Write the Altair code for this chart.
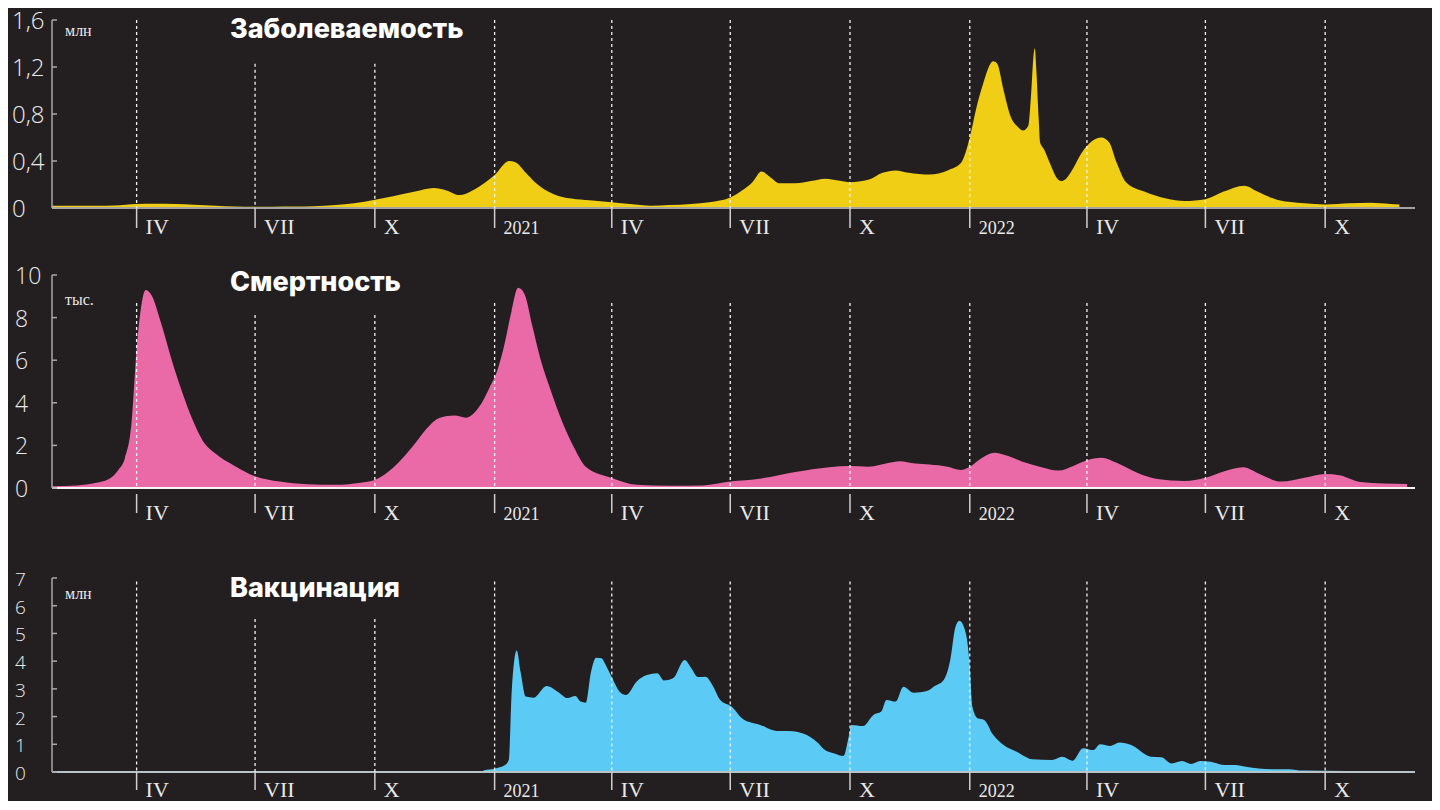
import altair as alt
import pandas as pd

BG = "#231f20"

# ---------------- data ----------------
quarter_dates = ["2020-04-01", "2020-07-01", "2020-10-01", "2021-01-01", "2021-04-01",
                 "2021-07-01", "2021-10-01", "2022-01-01", "2022-04-01", "2022-07-01", "2022-10-01"]
quarter_labels = ["IV", "VII", "X", "2021", "IV", "VII", "X", "2022", "IV", "VII", "X"]

cases_dates = [
    "2020-01-27", "2020-02-15", "2020-03-01", "2020-03-15", "2020-04-01", "2020-04-15", "2020-05-01",
    "2020-05-15", "2020-06-01", "2020-06-15", "2020-07-01", "2020-07-15", "2020-08-01", "2020-08-15",
    "2020-09-01", "2020-09-15", "2020-10-01", "2020-10-15", "2020-11-01", "2020-11-15", "2020-11-25",
    "2020-12-05", "2020-12-15", "2020-12-25", "2021-01-01", "2021-01-12", "2021-01-17", "2021-01-25",
    "2021-02-01", "2021-02-15", "2021-03-01", "2021-03-15", "2021-04-01", "2021-04-15", "2021-05-01",
    "2021-05-15", "2021-06-01", "2021-06-15", "2021-07-01", "2021-07-10", "2021-07-18", "2021-07-25",
    "2021-08-01", "2021-08-08", "2021-08-20", "2021-09-01", "2021-09-12", "2021-09-22", "2021-10-01",
    "2021-10-15", "2021-10-26", "2021-11-05", "2021-11-15", "2021-12-01", "2021-12-15", "2021-12-25",
    "2022-01-01", "2022-01-06", "2022-01-11", "2022-01-19", "2022-01-22", "2022-01-27", "2022-02-01",
    "2022-02-07", "2022-02-11", "2022-02-15", "2022-02-17", "2022-02-19", "2022-02-20", "2022-02-21",
    "2022-02-23", "2022-02-24", "2022-02-27", "2022-03-04", "2022-03-08", "2022-03-12", "2022-03-16",
    "2022-03-21", "2022-03-28", "2022-04-05", "2022-04-12", "2022-04-18", "2022-04-24", "2022-05-01",
    "2022-05-15", "2022-06-01", "2022-06-15", "2022-07-01", "2022-07-15", "2022-07-31", "2022-08-10",
    "2022-08-25", "2022-09-15", "2022-10-01", "2022-10-20", "2022-11-05", "2022-11-20", "2022-11-27"]
cases_values = [
    0.02, 0.02, 0.02, 0.022, 0.035, 0.036, 0.035,
    0.028, 0.02, 0.012, 0.01, 0.011, 0.012, 0.015,
    0.025, 0.04, 0.07, 0.10, 0.14, 0.17, 0.15,
    0.11, 0.15, 0.22, 0.28, 0.40, 0.39, 0.30,
    0.22, 0.12, 0.08, 0.065, 0.05, 0.035, 0.02,
    0.025, 0.035, 0.05, 0.09, 0.15, 0.22, 0.31,
    0.26, 0.21, 0.21, 0.23, 0.25, 0.235, 0.22,
    0.24, 0.30, 0.32, 0.30, 0.285, 0.32, 0.38,
    0.60, 0.85, 1.05, 1.25, 1.23, 1.00, 0.79,
    0.69, 0.66, 0.70, 0.95, 1.30, 1.36, 1.20,
    0.75, 0.56, 0.50, 0.37, 0.27, 0.23, 0.25,
    0.33, 0.47, 0.57, 0.60, 0.56, 0.38, 0.22,
    0.14, 0.08, 0.06, 0.075, 0.14, 0.19, 0.14,
    0.07, 0.04, 0.03, 0.04, 0.045, 0.035, 0.03]

deaths_dates = [
    "2020-01-27", "2020-02-15", "2020-03-01", "2020-03-10", "2020-03-18", "2020-03-23", "2020-03-28",
    "2020-04-01", "2020-04-04", "2020-04-08", "2020-04-12", "2020-04-20", "2020-04-28", "2020-05-06",
    "2020-05-14", "2020-05-22", "2020-06-01", "2020-06-15", "2020-07-01", "2020-07-20", "2020-08-10",
    "2020-09-01", "2020-09-20", "2020-10-01", "2020-10-15", "2020-11-01", "2020-11-10", "2020-11-20",
    "2020-12-01", "2020-12-10", "2020-12-20", "2020-12-28", "2021-01-03", "2021-01-08", "2021-01-14",
    "2021-01-19", "2021-01-24", "2021-01-30", "2021-02-05", "2021-02-13", "2021-02-22", "2021-03-03",
    "2021-03-12", "2021-04-01", "2021-04-20", "2021-05-15", "2021-06-10", "2021-07-01", "2021-07-25",
    "2021-08-20", "2021-09-15", "2021-10-01", "2021-10-15", "2021-11-01", "2021-11-08", "2021-11-20",
    "2021-12-01", "2021-12-15", "2021-12-25", "2022-01-01", "2022-01-10", "2022-01-20", "2022-01-28",
    "2022-02-10", "2022-02-25", "2022-03-10", "2022-03-22", "2022-04-01", "2022-04-12", "2022-04-25",
    "2022-05-10", "2022-05-25", "2022-06-15", "2022-07-01", "2022-07-15", "2022-07-30", "2022-08-12",
    "2022-08-28", "2022-09-15", "2022-10-01", "2022-10-12", "2022-10-28", "2022-11-15", "2022-12-03"]
deaths_values = [
    0.08, 0.12, 0.25, 0.4, 0.85, 1.4, 3.0,
    6.5, 8.3, 9.3, 9.1, 7.7, 6.0, 4.5,
    3.2, 2.2, 1.6, 1.05, 0.55, 0.3, 0.18,
    0.15, 0.25, 0.38, 0.95, 2.1, 2.8, 3.3,
    3.4, 3.3, 3.8, 4.7, 5.5, 6.6, 8.3,
    9.4, 9.1, 7.6, 6.1, 4.6, 3.1, 1.9,
    1.0, 0.47, 0.15, 0.1, 0.12, 0.3, 0.45,
    0.75, 0.98, 1.03, 1.0, 1.2, 1.26, 1.15,
    1.1, 1.0, 0.85, 1.0, 1.4, 1.65, 1.55,
    1.25, 0.98, 0.82, 1.05, 1.3, 1.42, 1.15,
    0.7, 0.42, 0.33, 0.48, 0.78, 0.98, 0.65,
    0.3, 0.48, 0.66, 0.6, 0.28, 0.21, 0.19]

vacc_dates = [
    "2020-12-22", "2020-12-24", "2021-01-01", "2021-01-09", "2021-01-12", "2021-01-14", "2021-01-16",
    "2021-01-18", "2021-01-21", "2021-01-25", "2021-01-31", "2021-02-10", "2021-02-19", "2021-02-26",
    "2021-03-04", "2021-03-08", "2021-03-12", "2021-03-16", "2021-03-20", "2021-03-24", "2021-03-28",
    "2021-04-02", "2021-04-07", "2021-04-12", "2021-04-20", "2021-04-28", "2021-05-06", "2021-05-11",
    "2021-05-18", "2021-05-27", "2021-06-01", "2021-06-06", "2021-06-12", "2021-06-18", "2021-06-23",
    "2021-07-02", "2021-07-11", "2021-07-24", "2021-08-06", "2021-08-15", "2021-08-27", "2021-09-06",
    "2021-09-11", "2021-09-19", "2021-09-26", "2021-09-30", "2021-10-02", "2021-10-11", "2021-10-19",
    "2021-10-25", "2021-10-29", "2021-11-05", "2021-11-11", "2021-11-19", "2021-11-29", "2021-12-05",
    "2021-12-12", "2021-12-17", "2021-12-21", "2021-12-24", "2021-12-29", "2022-01-01", "2022-01-03",
    "2022-01-07", "2022-01-12", "2022-01-19", "2022-01-27", "2022-02-06", "2022-02-18", "2022-03-05",
    "2022-03-13", "2022-03-21", "2022-03-29", "2022-04-06", "2022-04-11", "2022-04-19", "2022-04-26",
    "2022-05-05", "2022-05-20", "2022-05-28", "2022-06-05", "2022-06-13", "2022-06-20", "2022-06-27",
    "2022-07-05", "2022-07-16", "2022-07-24", "2022-08-01", "2022-08-22", "2022-09-03", "2022-09-14",
    "2022-10-18", "2022-11-21"]
vacc_values = [
    0.0, 0.06, 0.12, 0.25, 0.45, 2.8, 4.0,
    4.38, 3.6, 2.72, 2.68, 3.1, 2.88, 2.67,
    2.74, 2.54, 2.5, 3.6, 4.12, 4.1, 3.8,
    3.32, 2.9, 2.78, 3.26, 3.5, 3.56, 3.3,
    3.38, 4.04, 3.75, 3.43, 3.44, 3.08, 2.62,
    2.36, 1.9, 1.7, 1.48, 1.48, 1.37, 1.06,
    0.82, 0.67, 0.58, 1.27, 1.7, 1.66, 2.06,
    2.18, 2.6, 2.54, 3.08, 2.86, 2.92, 3.1,
    3.32, 4.04, 5.24, 5.46, 5.0, 3.8, 2.36,
    1.94, 1.88, 1.34, 0.97, 0.73, 0.46, 0.43,
    0.55, 0.41, 0.86, 0.79, 1.0, 0.94, 1.06,
    0.97, 0.55, 0.53, 0.31, 0.4, 0.29, 0.4,
    0.37, 0.25, 0.25, 0.19, 0.1, 0.1, 0.05,
    0.04, 0.02]

cases_ticks = [0, 0.4, 0.8, 1.2, 1.6]
deaths_ticks = [0, 2, 4, 6, 8, 10]
vacc_ticks = [0, 1, 2, 3, 4, 5, 6, 7]

# ---------------- layout ----------------
W = 1363
X_SCALE = alt.Scale(type="utc", domain=[alt.DateTime(year=2020, month=1, date=27, utc=True),
                                         alt.DateTime(year=2022, month=12, date=9, utc=True)])
XENC = alt.X("date:T", scale=X_SCALE, axis=None)
LABEL_COLOR = "#e9e9e9"


def tick_text(v):
    if v == 0:
        return "0"
    s = ("%g" % v)
    return s.replace(".", ",")


def panel(dates, values, color, ticks, title, unit, H, top_extra, bottom_extra,
          ylab_size, ylab_x, title_y, unit_y, full_top, short_top,
          tick_from, tick_to, lab_y, base_color, axis_color):
    ymax = ticks[-1]
    ysc = alt.Scale(domain=[0, ymax], nice=False, zero=True)
    df = pd.DataFrame({"date": dates, "value": values})
    qdf = pd.DataFrame({"date": quarter_dates, "label": quarter_labels})
    qdf["top"] = [short_top if i in (1, 2) else full_top for i in range(len(qdf))]
    qdf["fs"] = [18 if lab.isdigit() else 22 for lab in quarter_labels]
    tdf = pd.DataFrame({"v": ticks, "t": [tick_text(v) for v in ticks]})
    one = pd.DataFrame({"title": [title], "unit": [unit]})

    area = alt.Chart(df).mark_area(color=color, interpolate="monotone").encode(
        x=XENC, y=alt.Y("value:Q", scale=ysc, axis=None))
    baseline = alt.Chart(one).mark_rule(color=base_color, strokeWidth=2).encode(
        x=alt.value(0), x2=alt.value(W), y=alt.value(H))
    yline = alt.Chart(one).mark_rule(color=axis_color, strokeWidth=1.5).encode(
        x=alt.value(0), y=alt.value(0), y2=alt.value(H))
    yticks = alt.Chart(tdf).mark_rule(color=axis_color, strokeWidth=1.5).encode(
        x=alt.value(0), x2=alt.value(5), y=alt.Y("v:Q", scale=ysc, axis=None))
    ylabels = alt.Chart(tdf).mark_text(
        align="left", baseline="middle", dy=2, font="Open Sans", fontWeight=300,
        fontSize=ylab_size, color=LABEL_COLOR).encode(
        x=alt.value(ylab_x), y=alt.Y("v:Q", scale=ysc, axis=None), text="t:N")
    dashed = alt.Chart(qdf).mark_rule(color="#f2f2f2", strokeWidth=1.3, strokeDash=[3, 3]).encode(
        x=XENC, y=alt.Y("top:Q", scale=ysc, axis=None), y2=alt.datum(0))
    xticks = alt.Chart(qdf).mark_rule(color="#cfcfcf", strokeWidth=1.5).encode(
        x=XENC, y=alt.value(H + tick_from), y2=alt.value(H + tick_to))
    xlabels = alt.Chart(qdf).mark_text(
        align="left", baseline="alphabetic", dx=9, font="Liberation Serif",
        color=LABEL_COLOR).encode(
        x=XENC, y=alt.value(H + lab_y), text="label:N",
        size=alt.Size("fs:Q", scale=None, legend=None))
    ttl = alt.Chart(one).mark_text(
        align="left", baseline="middle", font="Inter", fontWeight=800, fontSize=27,
        color="#ffffff").encode(x=alt.value(178), y=alt.value(title_y), text="title:N")
    unt = alt.Chart(one).mark_text(
        align="left", baseline="middle", font="Liberation Serif", fontSize=16,
        color=LABEL_COLOR).encode(x=alt.value(13), y=alt.value(unit_y), text="unit:N")
    bounds = alt.Chart(one).mark_rule(strokeOpacity=0, color=BG).encode(
        x=alt.value(-44), x2=alt.value(W + 17),
        y=alt.value(-top_extra), y2=alt.value(H + bottom_extra))
    return alt.layer(area, baseline, dashed, yline, yticks, ylabels, xticks, xlabels,
                     ttl, unt, bounds).properties(width=W, height=H)


p1 = panel(cases_dates, cases_values, "#f0ce15", cases_ticks, "Заболеваемость", "млн",
           H=188, top_extra=12, bottom_extra=40, ylab_size=24, ylab_x=-40,
           title_y=10, unit_y=11, full_top=1.6, short_top=1.228,
           tick_from=0, tick_to=20, lab_y=26, base_color="#a3a3a3", axis_color="#a8a8a8")
p2 = panel(deaths_dates, deaths_values, "#ea6aa8", deaths_ticks, "Смертность", "тыс.",
           H=213, top_extra=27, bottom_extra=40, ylab_size=23, ylab_x=-37,
           title_y=8, unit_y=25, full_top=8.69, short_top=8.12,
           tick_from=6, tick_to=25, lab_y=32, base_color="#f5f5f5", axis_color="#a8a8a8")
p3 = panel(vacc_dates, vacc_values, "#5bcbf5", vacc_ticks, "Вакцинация", "млн",
           H=194, top_extra=50, bottom_extra=20, ylab_size=19, ylab_x=-37,
           title_y=11, unit_y=16, full_top=6.87, short_top=5.52,
           tick_from=0, tick_to=18, lab_y=25, base_color="#b9c4c8", axis_color="#a8a8a8")

chart = alt.vconcat(p1, p2, p3, spacing=0).properties(padding=0).configure(
    background=BG).configure_view(stroke=None)

chart.save("out.html", embed_options={"renderer": "svg", "actions": False})
